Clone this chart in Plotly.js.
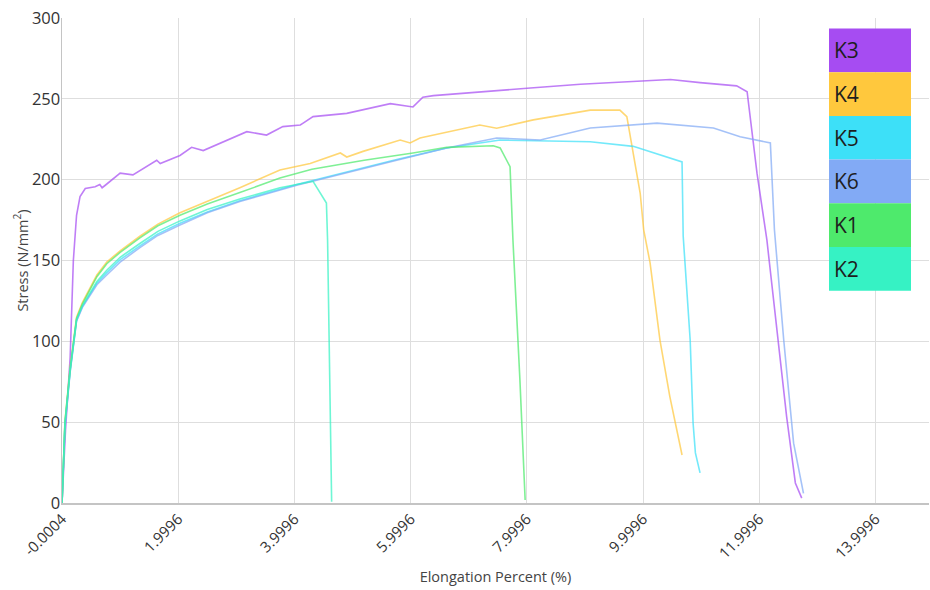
<!DOCTYPE html>
<html>
<head>
<meta charset="utf-8">
<script src="https://cdn.plot.ly/plotly-3.0.1.min.js"></script>
<style>html,body{margin:0;padding:0;background:#fff;}#chart{width:930px;height:590px;}</style>
</head>
<body>
<div id="chart"></div>
<script>
// ---- data ----
var seriesNames = ["K3", "K4", "K5", "K6", "K1", "K2"];
var seriesColors = ["#a64cf2", "#ffc83d", "#3de0f8", "#82aaf5", "#4eea6c", "#36f2c4"];

var k3X = [0, 0.06, 0.14, 0.195, 0.25, 0.31, 0.40, 0.57, 0.65, 0.69, 0.75, 1.0, 1.22, 1.63, 1.69, 2.03, 2.23, 2.43, 3.18, 3.52, 3.80, 4.10, 4.15, 4.32, 4.90, 5.65, 6.04, 6.21, 6.39, 7.19, 8.06, 8.92, 10.06, 10.47, 10.98, 11.61, 11.79, 11.96, 12.13, 12.47, 12.62, 12.73];
var k3Y = [0, 45, 90, 150, 178, 189.5, 194.5, 195.6, 197, 195, 196.7, 204, 203, 212, 210, 215, 220, 218, 229.7, 227.6, 232.8, 233.8, 235, 239, 241, 247, 245, 251, 252, 254.4, 256.7, 259, 261.2, 262, 260, 258, 254.4, 204, 162.7, 53.4, 12.4, 3];

var k4X = [0, 0.05, 0.14, 0.25, 0.35, 0.48, 0.6, 0.77, 1.0, 1.34, 1.65, 2.03, 2.5, 3.06, 3.75, 4.04, 4.27, 4.79, 4.90, 5.18, 5.82, 5.99, 6.16, 7.19, 7.48, 8.11, 9.09, 9.60, 9.72, 9.95, 10.01, 10.12, 10.29, 10.46, 10.67];
var k4Y = [0, 50, 84, 115, 124, 133, 141, 149, 156, 165, 172.5, 179.5, 186.5, 195, 206, 208, 210, 216.5, 214, 217.5, 224.5, 222.7, 225.8, 233.8, 231.8, 237, 243, 243, 239, 191.6, 169, 148.5, 100.8, 65.8, 29.7];

var k5X = [0, 0.05, 0.14, 0.25, 0.35, 0.48, 0.6, 0.77, 1.0, 1.34, 1.65, 2.03, 2.5, 3.06, 4.04, 5.76, 6.62, 7.54, 9.09, 9.83, 10.67, 10.69, 10.81, 10.86, 10.90, 10.98];
var k5Y = [0, 48, 82, 113, 121.5, 129, 136, 142.5, 150.5, 159, 166.5, 173, 180, 187, 197, 212.5, 219.6, 224.5, 223.5, 220.6, 211, 165, 100.8, 49.5, 31, 18.6];

var k6X = [0, 0.05, 0.14, 0.25, 0.35, 0.48, 0.6, 0.77, 1.0, 1.34, 1.65, 2.03, 2.5, 3.06, 4.04, 5.76, 6.62, 7.48, 8.23, 9.09, 10.24, 11.21, 11.67, 12.19, 12.26, 12.42, 12.59, 12.76];
var k6Y = [0, 47, 81, 112.5, 121, 128, 135, 141, 149, 158, 165.5, 172, 179.5, 186.5, 196.5, 212, 219.6, 225.8, 224.5, 232, 235, 232, 226.6, 222.7, 169, 100.8, 37, 6];

var k1X = [0, 0.05, 0.14, 0.25, 0.35, 0.48, 0.6, 0.77, 1.0, 1.34, 1.65, 2.03, 2.5, 3.06, 3.75, 4.30, 5.20, 6.04, 6.62, 7.42, 7.54, 7.71, 7.76, 7.88, 7.97];
var k1Y = [0, 50, 83, 114, 123, 132, 140, 148, 155, 164, 171.5, 178, 185, 192, 201, 206.5, 212, 216.5, 220, 221, 219.6, 208, 162.7, 76, 1.9];

var k2X = [0, 0.05, 0.14, 0.25, 0.35, 0.48, 0.6, 0.77, 1.0, 1.34, 1.65, 2.03, 2.5, 3.06, 3.75, 4.32, 4.55, 4.57, 4.58, 4.64];
var k2Y = [0, 49, 82, 113.5, 122, 130, 137, 144, 152, 160.5, 168, 174.5, 181.5, 188, 195, 199, 185.5, 162.7, 138, 0.8];

var seriesX = [k3X, k4X, k5X, k6X, k1X, k2X];
var seriesY = [k3Y, k4Y, k5Y, k6Y, k1Y, k2Y];

var xTickLabels = ["-0.0004", "1.9996", "3.9996", "5.9996", "7.9996", "9.9996", "11.9996", "13.9996"];
var yTickLabels = ["0", "50", "100", "150", "200", "250", "300"];

// ---- build chart ----
var traces = seriesNames.map(function (name, i) {
  return {
    type: "scatter", mode: "lines", name: name,
    x: seriesX[i], y: seriesY[i],
    line: {color: seriesColors[i], width: 1.6, shape: "linear"},
    opacity: 0.72, showlegend: false, hoverinfo: "skip"
  };
});

// custom block legend (stacked coloured boxes with text on top)
var W = 930, H = 590, mL = 62, mR = 1, mT = 18, mB = 87;
var pw = W - mL - mR, ph = H - mT - mB;
function px2x(px) { return (px - mL) / pw; }
function py2y(py) { return (H - mB - py) / ph; }
var boxL = 829, boxR = 911, boxTop = 28.5, boxH = 43.7;
var shapes = [], annotations = [];
seriesNames.forEach(function (name, i) {
  var t = boxTop + i * boxH, b = t + boxH;
  shapes.push({type: "rect", xref: "paper", yref: "paper",
    x0: px2x(boxL), x1: px2x(boxR), y0: py2y(b), y1: py2y(t),
    fillcolor: seriesColors[i], line: {width: 0}, layer: "above"});
  annotations.push({xref: "paper", yref: "paper", x: px2x(boxL + 3), y: py2y((t + b) / 2),
    xanchor: "left", yanchor: "middle", showarrow: false, text: name,
    font: {family: "Open Sans, Noto Sans, sans-serif", size: 21, color: "#1e1e1e"}});
});

var layout = {
  width: W, height: H,
  margin: {l: mL, r: mR, t: mT, b: mB, pad: 0},
  paper_bgcolor: "#fff", plot_bgcolor: "#fff",
  showlegend: false,
  font: {family: "Open Sans, Noto Sans, sans-serif", color: "#444"},
  xaxis: {
    range: [-0.0004, 14.92],
    tickmode: "array",
    tickvals: xTickLabels.map(Number),
    ticktext: xTickLabels,
    tickangle: -45,
    tickfont: {size: 15, color: "#333"},
    showgrid: true, gridcolor: "#dedede", gridwidth: 1,
    zeroline: false, showline: true, linecolor: "#c4c4c4", linewidth: 1.5,
    ticks: "", automargin: false,
    title: {text: "Elongation Percent (%)", font: {size: 14.5, color: "#444"}, standoff: 10}
  },
  yaxis: {
    range: [0, 300],
    tickmode: "array",
    tickvals: yTickLabels.map(Number),
    ticktext: yTickLabels,
    tickfont: {size: 16.5, color: "#333"},
    ticklabelstandoff: -3,
    showgrid: true, gridcolor: "#dedede", gridwidth: 1,
    zeroline: false, showline: true, linecolor: "#c4c4c4", linewidth: 1.5,
    ticks: "", automargin: false,
    title: {text: "Stress (N/mm<sup>2</sup>)", font: {size: 14.5, color: "#444"}, standoff: 0}
  },
  shapes: shapes,
  annotations: annotations
};

Plotly.newPlot("chart", traces, layout, {displayModeBar: false, staticPlot: true});
</script>
</body>
</html>
